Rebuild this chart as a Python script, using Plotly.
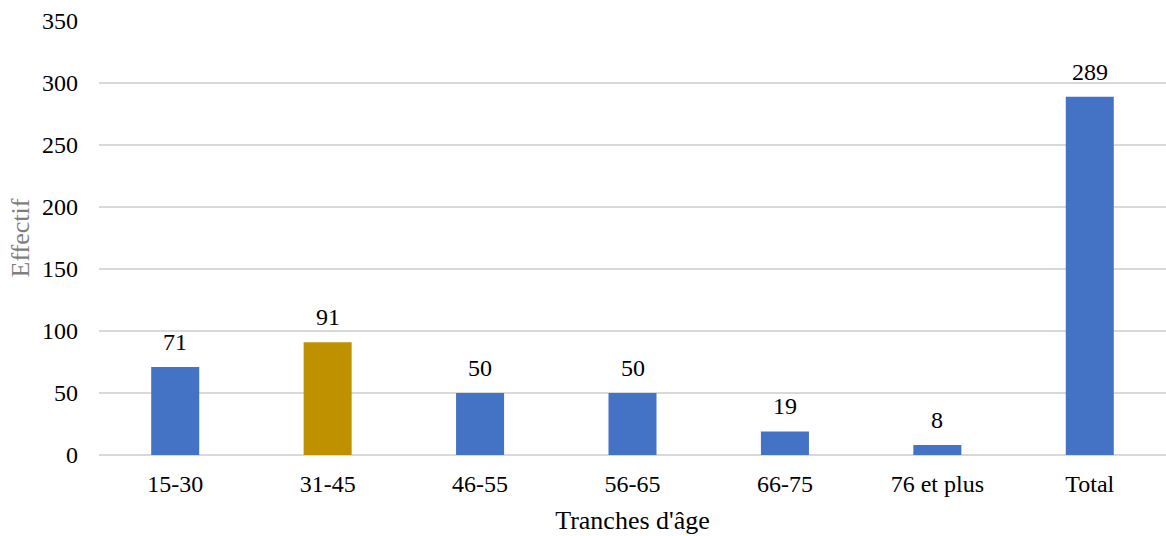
import plotly.graph_objects as go

categories = ["15-30", "31-45", "46-55", "56-65", "66-75", "76 et plus", "Total"]
values = [71, 91, 50, 50, 19, 8, 289]
bar_colors = ["#4472C4", "#BF9000", "#4472C4", "#4472C4", "#4472C4", "#4472C4", "#4472C4"]
y_ticks = [0, 50, 100, 150, 200, 250, 300, 350]

FONT = "'Liberation Serif', 'Times New Roman', serif"

fig = go.Figure(go.Bar(
    x=categories, y=values,
    marker=dict(color=bar_colors, line=dict(width=0)),
))

for c, v in zip(categories, values):
    fig.add_annotation(
        x=c, y=v, text=str(v), showarrow=False,
        yanchor="middle", yshift=25,
        font=dict(family=FONT, size=24, color="#000000"),
    )

fig.update_layout(
    width=1166, height=536,
    margin=dict(l=99, r=0, t=21, b=81),
    plot_bgcolor="white", paper_bgcolor="white",
    bargap=0.685,
    showlegend=False,
    font=dict(family=FONT, size=24, color="#000000"),
    xaxis=dict(
        title=dict(text="Tranches d'âge", font=dict(family=FONT, size=26, color="#000000"), standoff=14),
        showgrid=False, showline=False, ticks="", tickfont=dict(size=24),
        ticklabelstandoff=12,
    ),
    yaxis=dict(
        title=dict(text="Effectif", font=dict(family=FONT, size=26, color="#7F7F7F"), standoff=4),
        range=[0, 350], tickvals=y_ticks, showgrid=True, gridcolor="#D9D9D9", gridwidth=1.5,
        zeroline=True, zerolinecolor="#D9D9D9", zerolinewidth=1.5,
        ticks="", tickfont=dict(size=24), ticklabelstandoff=20,
    ),
)

fig.write_html("out.html")
